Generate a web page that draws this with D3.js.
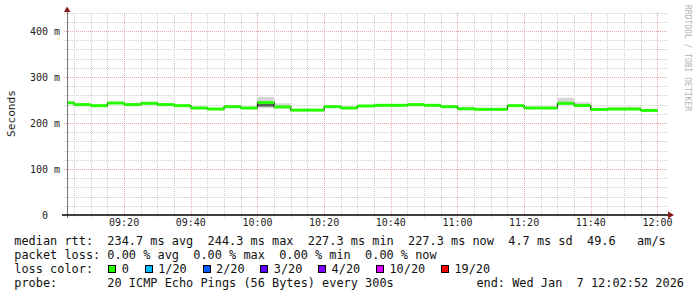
<!DOCTYPE html>
<html>
<head>
<meta charset="utf-8">
<script src="https://cdn.jsdelivr.net/npm/d3@7"></script>
<style>
  body { margin: 0; background: #fff; }
  text { font-family: "DejaVu Sans Mono", monospace; white-space: pre; }
</style>
</head>
<body>
<svg id="chart"></svg>
<script>
// Median rtt per 5 min step (ms), step ends at 09:05, 09:10 ... 12:00
var stepEnds = ["09:05","09:10","09:15","09:20","09:25","09:30","09:35","09:40","09:45","09:50","09:55","10:00",
                "10:05","10:10","10:15","10:20","10:25","10:30","10:35","10:40","10:45","10:50","10:55","11:00",
                "11:05","11:10","11:15","11:20","11:25","11:30","11:35","11:40","11:45","11:50","11:55","12:00"];
var medianMs = [244, 240, 237.7, 243.5, 240, 242.8, 240, 237.7, 232.6, 230.4, 235.5, 232.6,
                244.3, 235, 228, 228, 235.5, 232.6, 237, 238.4, 238.4, 239.9, 238.4, 235.5,
                231, 229.7, 229.7, 237.7, 232.6, 232.6, 242.8, 238, 229.5, 230.3, 230.3, 227.3];
// smoke (spread of the 20 pings)
var smokeLow  = [242.5, 238.5, 236, 242, 238.5, 241, 238.5, 236, 231, 229, 234, 231,
                 232, 231, 226.5, 226.5, 234, 231, 235.5, 237, 237, 238.5, 237, 234,
                 229, 228, 228, 236, 231, 231, 240, 235, 228, 228.5, 228.5, 226];
var smokeHigh = [245.5, 241.5, 239, 245, 241.5, 244.5, 241.5, 239, 234, 232, 237, 234,
                 256.5, 243, 229.5, 229.5, 237, 234, 238.5, 240, 240, 241.5, 240, 237,
                 235.5, 231, 231, 239, 234, 234, 255, 245, 231, 235.5, 235.5, 229];
var coreLow   = [244, 240, 237.7, 243.5, 240, 242.8, 240, 237.7, 232.6, 230.4, 235.5, 232.6,
                 236, 233, 228, 228, 235.5, 232.6, 237, 238.4, 238.4, 239.9, 238.4, 235.5,
                 231, 229.7, 229.7, 237.7, 232.6, 232.6, 242.8, 238, 229.5, 230.3, 230.3, 227.3];
var coreHigh  = [244, 240, 237.7, 243.5, 240, 242.8, 240, 237.7, 232.6, 230.4, 235.5, 232.6,
                 242, 236, 228, 228, 235.5, 232.6, 237, 238.4, 238.4, 239.9, 238.4, 235.5,
                 231, 229.7, 229.7, 237.7, 232.6, 232.6, 242.8, 238, 229.5, 230.3, 230.3, 227.3];

var yTicks = [0, 100, 200, 300, 400];
var xTickLabels = ["09:20","09:40","10:00","10:20","10:40","11:00","11:20","11:40","12:00"];

var rttStats = [["234.7", "ms avg"], ["244.3", "ms max"], ["227.3", "ms min"], ["227.3", "ms now"], ["4.7", "ms sd"], ["49.6", "  am/s"]];
var lossStats = [["0.00", "% avg"], ["0.00", "% max"], ["0.00", "% min"], ["0.00", "% now"]];
var lossLabels = ["0", "1/20", "2/20", "3/20", "4/20", "10/20", "19/20"];
var lossColors = ["#26ff00", "#00b8ff", "#0059ff", "#5e00ff", "#7e00ff", "#dd00ff", "#ff0000"];
var probeText = "20 ICMP Echo Pings (56 Bytes) every 300s";
var endText = "end: Wed Jan  7 12:02:52 2026";

var W = 697, H = 297;
var plot = { left: 67, right: 667, top: 12.6, bottom: 215 };

var svg = d3.select("#chart").attr("width", W).attr("height", H);
svg.append("rect").attr("width", W).attr("height", H).attr("fill", "#fff");

var parseT = function (s) {
    var p = s.split(":");
    return new Date(2026, 0, 7, +p[0], +p[1], 0);
};
var endTime = new Date(2026, 0, 7, 12, 2, 52);
var startTime = new Date(endTime.getTime() - 3 * 3600 * 1000);

var x = d3.scaleTime().domain([startTime, endTime]).range([plot.left, plot.right]);
var y = d3.scaleLinear().domain([0, 440]).range([plot.bottom, plot.top]);

// Grid
var minorX = d3.timeMinute.every(5).range(startTime, endTime);
var majorX = d3.timeMinute.every(20).range(startTime, endTime);
var minorY = d3.range(20, 441, 20);

var grid = svg.append("g").attr("shape-rendering", "crispEdges");
grid.selectAll(".vmin").data(minorX).enter().append("line")
    .attr("x1", function (d) { return Math.round(x(d)) + 0.5; })
    .attr("x2", function (d) { return Math.round(x(d)) + 0.5; })
    .attr("y1", plot.top).attr("y2", plot.bottom + 3)
    .attr("stroke", "#cfcfcf").attr("stroke-dasharray", "1,1");
grid.selectAll(".hmin").data(minorY).enter().append("line")
    .attr("y1", function (d) { return Math.round(y(d)) + 0.5; })
    .attr("y2", function (d) { return Math.round(y(d)) + 0.5; })
    .attr("x1", plot.left - 3).attr("x2", plot.right)
    .attr("stroke", "#cfcfcf").attr("stroke-dasharray", "1,1");
grid.selectAll(".vmaj").data(majorX).enter().append("line")
    .attr("x1", function (d) { return Math.round(x(d)) + 0.5; })
    .attr("x2", function (d) { return Math.round(x(d)) + 0.5; })
    .attr("y1", plot.top).attr("y2", plot.bottom + 3)
    .attr("stroke", "#e8a9a9").attr("stroke-dasharray", "1,1");
grid.selectAll(".hmaj").data(yTicks.filter(function (d) { return d > 0; })).enter().append("line")
    .attr("y1", function (d) { return Math.round(y(d)) + 0.5; })
    .attr("y2", function (d) { return Math.round(y(d)) + 0.5; })
    .attr("x1", plot.left - 3).attr("x2", plot.right)
    .attr("stroke", "#e8a9a9").attr("stroke-dasharray", "1,1");

// Data points (step ends) with a leading start point
var pts = stepEnds.map(function (s, i) {
    return { t: parseT(s), m: medianMs[i], lo: smokeLow[i], hi: smokeHigh[i], clo: coreLow[i], chi: coreHigh[i] };
});
var stepPts = [{ t: startTime, m: pts[0].m, lo: pts[0].lo, hi: pts[0].hi, clo: pts[0].clo, chi: pts[0].chi }].concat(pts);

svg.append("clipPath").attr("id", "clip").append("rect")
    .attr("x", plot.left).attr("y", plot.top)
    .attr("width", plot.right - plot.left).attr("height", plot.bottom - plot.top);
var g = svg.append("g").attr("clip-path", "url(#clip)");

// smoke
var smoke = d3.area().curve(d3.curveStepBefore)
    .x(function (d) { return x(d.t); })
    .y0(function (d) { return y(d.lo); })
    .y1(function (d) { return y(d.hi); });
g.append("path").attr("d", smoke(stepPts)).attr("fill", "#d6d6d6");

var core = d3.area().curve(d3.curveStepBefore)
    .x(function (d) { return x(d.t); })
    .y0(function (d) { return y(d.clo); })
    .y1(function (d) { return y(d.chi); });
g.append("path").attr("d", core(stepPts)).attr("fill", "#555");

// dark step line (shows at the step transitions)
var stepLine = d3.line().curve(d3.curveStepBefore)
    .x(function (d) { return x(d.t); })
    .y(function (d) { return y(d.m); });
g.append("path").attr("d", stepLine(stepPts))
    .attr("fill", "none").attr("stroke", "#222").attr("stroke-width", 1.2);

// median bands in loss colour
g.selectAll(".med").data(pts).enter().append("rect")
    .attr("x", function (d) { return Math.max(x(d3.timeMinute.offset(d.t, -5)), plot.left); })
    .attr("width", function (d) { return x(d.t) - Math.max(x(d3.timeMinute.offset(d.t, -5)), plot.left); })
    .attr("y", function (d) { return y(d.m) - 1.5; })
    .attr("height", 3)
    .attr("fill", lossColors[0]);

// Axes
var axisColor = "#777";
svg.append("line").attr("x1", plot.left + 0.5).attr("x2", plot.left + 0.5)
    .attr("y1", 10).attr("y2", plot.bottom + 3)
    .attr("stroke", axisColor).attr("shape-rendering", "crispEdges");
svg.append("line").attr("x1", plot.left - 5).attr("x2", plot.right + 2)
    .attr("y1", plot.bottom).attr("y2", plot.bottom)
    .attr("stroke", "#000").attr("stroke-width", 1.6);
svg.append("path").attr("d", "M" + (plot.left - 3) + ",12 L" + plot.left + ",6.5 L" + (plot.left + 3.5) + ",12 Z")
    .attr("fill", "#8b1a1a");
svg.append("path").attr("d", "M" + (plot.right + 1) + "," + (plot.bottom - 3.5) + " L" + (plot.right + 7) + "," + plot.bottom +
    " L" + (plot.right + 1) + "," + (plot.bottom + 3.5) + " Z")
    .attr("fill", "#8b1a1a");

// Y tick labels
svg.selectAll(".ylab").data(yTicks).enter().append("text")
    .attr("x", 60).attr("y", function (d) { return y(d) + 3.5; })
    .attr("text-anchor", "end").attr("font-size", "10px").attr("fill", "#222")
    .text(function (d) { return d === 0 ? "0  " : d + " m"; });

// X tick labels
svg.selectAll(".xlab").data(xTickLabels).enter().append("text")
    .attr("x", function (d) { return x(parseT(d)); }).attr("y", 226)
    .attr("text-anchor", "middle").attr("font-size", "10px").attr("fill", "#222")
    .text(function (d) { return d; });

// Y title
svg.append("text")
    .attr("transform", "translate(15,113.5) rotate(-90)")
    .attr("text-anchor", "middle").attr("font-size", "11.2px").attr("fill", "#222")
    .text("Seconds");

// watermark
svg.append("text")
    .attr("transform", "translate(685,5) rotate(90)")
    .attr("font-size", "8px").attr("fill", "#b4b4b4")
    .text("RRDTOOL / TOBI OETIKER");

// Legend
var fs = 11.9, cw = fs * 0.602, lx = 14.3;
var legend = svg.append("g").attr("font-size", fs + "px").attr("fill", "#111");
var rttLine = "median rtt:  " + rttStats.map(function (s) { return s[0] + " " + s[1]; }).join("  ");
var lossLine = "packet loss: " + lossStats.map(function (s) { return s[0] + " " + s[1]; }).join("  ");
legend.append("text").attr("x", lx).attr("y", 245).text(rttLine);
legend.append("text").attr("x", lx).attr("y", 259).text(lossLine);
legend.append("text").attr("x", lx).attr("y", 273).text("loss color:");
legend.append("text").attr("x", lx).attr("y", 287).text("probe:       " + probeText);
legend.append("text").attr("x", 684).attr("y", 287).attr("text-anchor", "end").text(endText);

var bx = lx + 13 * cw + 1;
lossLabels.forEach(function (lab, i) {
    legend.append("rect").attr("x", Math.round(bx) + 0.5).attr("y", 265.5)
        .attr("width", 7).attr("height", 7)
        .attr("fill", lossColors[i]).attr("stroke", "#000");
    legend.append("text").attr("x", bx + 13.4).attr("y", 273).text(lab);
    bx = bx + 13.4 + lab.length * cw + 2.2 * cw;
});
</script>
</body>
</html>
